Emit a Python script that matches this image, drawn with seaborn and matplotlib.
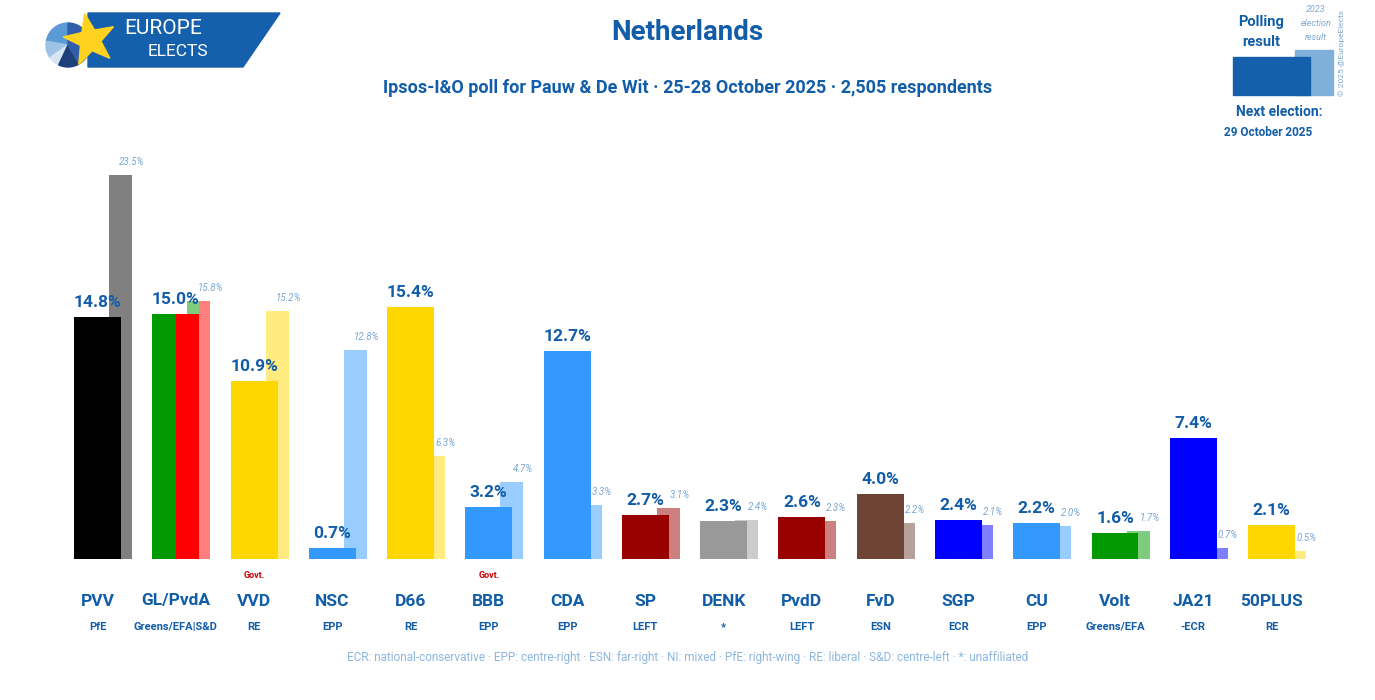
import numpy as np
import pandas as pd
import matplotlib
matplotlib.use("Agg")
import matplotlib.pyplot as plt
import matplotlib.patches as mpatches
import seaborn as sns

sns.set_theme(style="white")
plt.rcParams['font.family'] = ['Roboto', 'DejaVu Sans']

# data
parties = ["PVV", "GL/PvdA", "VVD", "NSC", "D66", "BBB", "CDA", "SP", "DENK",
           "PvdD", "FvD", "SGP", "CU", "Volt", "JA21", "50PLUS"]
groups = ["PfE", "Greens/EFA|S&D", "RE", "EPP", "RE", "EPP", "EPP", "LEFT", "*",
          "LEFT", "ESN", "ECR", "EPP", "Greens/EFA", "-ECR", "RE"]
poll = [14.8, 15.0, 10.9, 0.7, 15.4, 3.2, 12.7, 2.7, 2.3, 2.6, 4.0, 2.4, 2.2, 1.6, 7.4, 2.1]
prev = [23.5, 15.8, 15.2, 12.8, 6.3, 4.7, 3.3, 3.1, 2.4, 2.3, 2.2, 2.1, 2.0, 1.7, 0.7, 0.5]
govt = ["VVD", "BBB"]
main_colors = ["#000000", "#009900", "#FFD700", "#3399FF", "#FFD700", "#3399FF", "#3399FF",
               "#990000", "#999999", "#990000", "#6E4437", "#0000FF", "#3399FF", "#009900",
               "#0000FF", "#FFD700"]
prev_colors = ["#808080", "#7FCC7F", "#FFEB80", "#99CCFF", "#FFEB80", "#99CCFF", "#99CCFF",
               "#CC7F7F", "#CCCCCC", "#CC7F7F", "#B7A19B", "#7F7FFF", "#99CCFF", "#7FCC7F",
               "#7F7FFF", "#FFEB80"]
footer = ("ECR: national-conservative · EPP: centre-right · ESN: far-right · NI: mixed · "
          "PfE: right-wing · RE: liberal · S&D: centre-left · *: unaffiliated")

df = pd.DataFrame({"party": parties, "poll": poll, "prev": prev, "group": groups})

BLUE = "#125DA8"
LIGHT = "#7BA7D1"

fig = plt.figure(figsize=(13.75, 7), dpi=100)
ax = fig.add_axes([0, 0, 1, 1])

x = np.arange(len(parties))
w_main, w_prev, off = 0.60, 0.294, 0.294

# previous election bars (behind)
ax.bar(x + off, df["prev"], width=w_prev, color=prev_colors, linewidth=0, zorder=1)
# GL/PvdA previous split: right half red
ax.bar(1 + off + w_prev / 4, prev[1], width=w_prev / 2, color="#FF7F7F", linewidth=0, zorder=1)

sns.barplot(data=df, x="party", y="poll", hue="party", palette=main_colors,
            order=parties, width=w_main, saturation=1, legend=False, ax=ax,
            linewidth=0, edgecolor="none", zorder=2)
# GL/PvdA poll split: right half red
ax.bar(1 + w_main / 4, poll[1], width=w_main / 2, color="#FF0000", linewidth=0, zorder=3)

# scale: 78.27 px per category, 16.34 px per percent
px_x, px_y = 78.27, 16.34
ax.set_xlim(-97.5 / px_x, (1375 - 97.5) / px_x)
ax.set_ylim(-141 / px_y, 559 / px_y)
ax.axis("off")

def dy(px):
    return px / px_y

for i, (p, q, g) in enumerate(zip(poll, prev, groups)):
    ax.text(i, p + dy(7), f"{p:.1f}%", ha="center", va="bottom", fontsize=12.5,
            fontweight="bold", color=BLUE, zorder=4)
    ax.text(i + off + w_prev / 2, q + dy(8), f"{q:.1f}%", ha="center", va="bottom",
            fontsize=7, style="italic", color=LIGHT, zorder=4)
    ax.text(i, -dy(42), parties[i], ha="center", va="center", fontsize=12.5,
            fontweight="bold", color=BLUE)
    ax.text(i, -dy(68), g, ha="center", va="center", fontsize=8,
            fontweight="bold", color=BLUE)
    if parties[i] in govt:
        ax.text(i, -dy(16), "Govt.", ha="center", va="center", fontsize=6.5,
                fontweight="bold", color="#CC0000")

# header
fig.text(0.5, 1 - 33 / 700, "Netherlands", ha="center", va="center", fontsize=20,
         fontweight="bold", color=BLUE)
fig.text(0.5, 1 - 88 / 700, "Ipsos-I&O poll for Pauw & De Wit · 25-28 October 2025 · 2,505 respondents",
         ha="center", va="center", fontsize=13, fontweight="bold", color=BLUE)
fig.text(0.5, 1 - 657 / 700, footer, ha="center", va="center", fontsize=8.5, color="#8DB6DE")

# decorations placed in pixel positions (converted to inches)
tr = fig.dpi_scale_trans

def ix(px):
    return np.asarray(px) / 100

def iy(py):
    return (700 - np.asarray(py)) / 100

def fx(px):
    return px / 1375

def fy(py):
    return 1 - py / 700

# logo
logo = mpatches.Polygon([(ix(88), iy(13)), (ix(280), iy(13)), (ix(243), iy(67)), (ix(88), iy(67))],
                        closed=True, transform=tr, color="#1560AC", zorder=5)
fig.patches.append(logo)
pie_colors = ["#5B9BD5", "#9CC3E6", "#D6E6F5", "#1F3F7A", "#2E5FA8"]
angles = [90, 170, 215, 245, 300, 450]
for c, a0, a1 in zip(pie_colors, angles[:-1], angles[1:]):
    wdg = mpatches.Wedge((ix(68), iy(45)), 0.22, a0, a1, transform=tr, color=c, zorder=6)
    fig.patches.append(wdg)
star_t = np.linspace(np.pi / 2, np.pi / 2 + 2 * np.pi, 11)[:-1] + 0.2
rad = np.where(np.arange(10) % 2 == 0, 27, 11)
sx = 90 + rad * np.cos(star_t)
sy = 40 - rad * np.sin(star_t)
star = mpatches.Polygon(list(zip(ix(sx), iy(sy))), closed=True, transform=tr,
                        color="#FFD21F", zorder=7)
fig.patches.append(star)
fig.text(fx(163), fy(28), "EUROPE", ha="center", va="center", fontsize=15, color="white", zorder=8)
fig.text(fx(178), fy(52), "ELECTS", ha="center", va="center", fontsize=12.5, color="white", zorder=8)

# legend box top-right
fig.patches.append(mpatches.Rectangle((ix(1295), iy(95)), 0.38, 0.45, transform=tr,
                                      color="#7FB0DC", zorder=5))
fig.patches.append(mpatches.Rectangle((ix(1233), iy(95)), 0.77, 0.38, transform=tr,
                                      color="#1560AC", zorder=6))
fig.text(fx(1261), fy(22), "Polling", ha="center", va="center", fontsize=10.5,
         fontweight="bold", color=BLUE)
fig.text(fx(1261), fy(42), "result", ha="center", va="center", fontsize=10.5,
         fontweight="bold", color=BLUE)
for t, yy in zip(["2023", "election", "result"], [10, 24, 37]):
    fig.text(fx(1316), fy(yy), t, ha="center", va="center", fontsize=6.5,
             style="italic", color="#7FA8D0")
fig.text(fx(1279), fy(112), "Next election:", ha="center", va="center", fontsize=10,
         fontweight="bold", color=BLUE)
fig.text(fx(1268), fy(132), "29 October 2025", ha="center", va="center", fontsize=8.5,
         fontweight="bold", color=BLUE)
fig.text(fx(1342), fy(53), "© 2025 @EuropeElects", ha="center", va="center", fontsize=6,
         rotation=90, color="#7FA8D0")

fig.savefig("out.png", dpi=100)
